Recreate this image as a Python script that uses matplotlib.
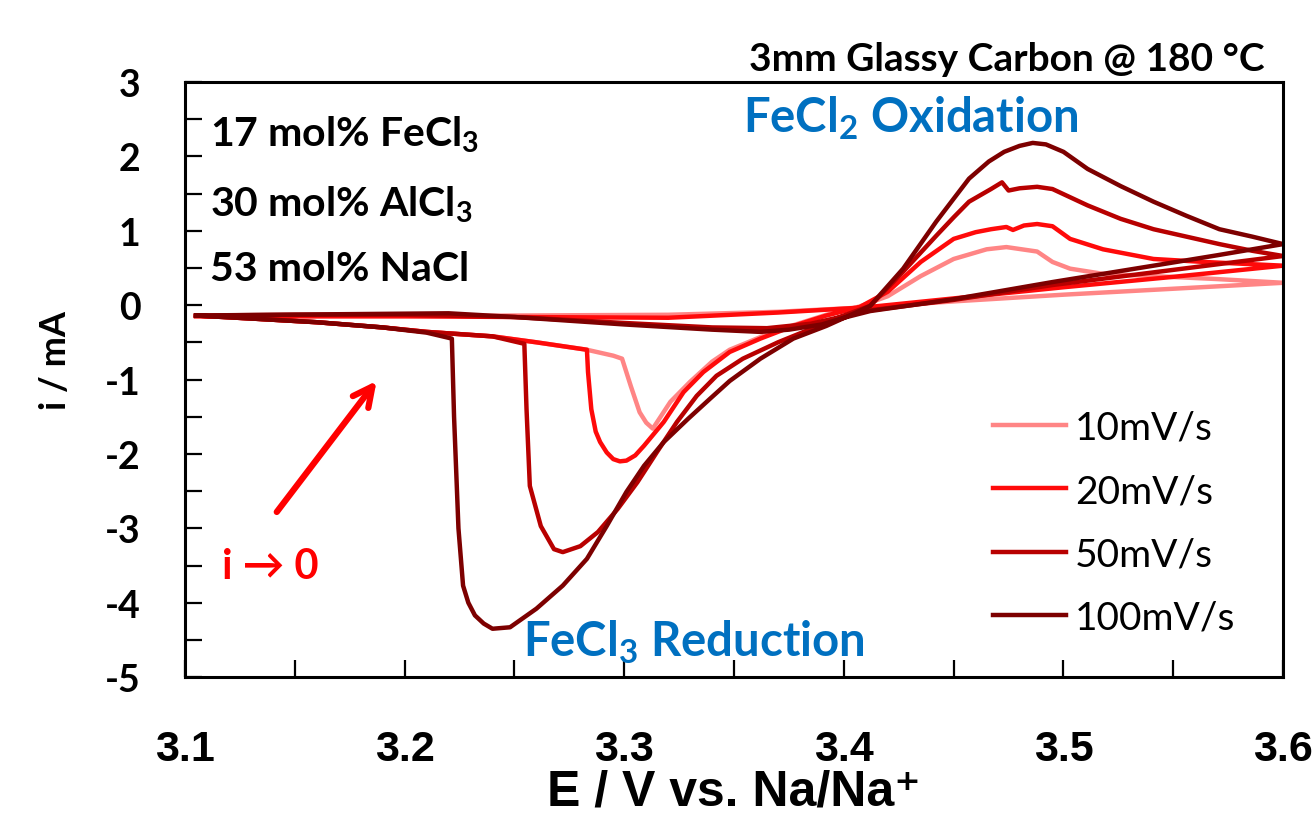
import matplotlib
matplotlib.use('Agg')
import matplotlib.pyplot as plt
from matplotlib.ticker import MultipleLocator

plt.rcParams['mathtext.fontset'] = 'custom'
plt.rcParams['mathtext.rm'] = 'Lato:bold'
plt.rcParams['mathtext.default'] = 'rm'

# scan rates and colours
labels = ['10mV/s', '20mV/s', '50mV/s', '100mV/s']
colors = ['#ff8585', '#ff0a0a', '#b80000', '#7d0000']

# each curve is one closed loop: 3.1 -> 3.6 (forward), then back to 3.1
# 10 mV/s
E_10 = [3.105, 3.13, 3.16, 3.19, 3.21, 3.24, 3.26, 3.283, 3.295, 3.299, 3.303,
        3.307, 3.310, 3.313, 3.321, 3.330, 3.340, 3.348, 3.362, 3.377, 3.392,
        3.407, 3.42, 3.435, 3.45, 3.465, 3.474, 3.488, 3.495, 3.503, 3.518,
        3.541, 3.57, 3.6,
        3.55, 3.5, 3.45, 3.41, 3.37, 3.32, 3.25, 3.2, 3.105]
i_10 = [-0.14, -0.18, -0.23, -0.3, -0.36, -0.42, -0.5, -0.6, -0.68, -0.72, -1.09,
        -1.44, -1.58, -1.66, -1.30, -1.03, -0.76, -0.6, -0.43, -0.27, -0.13,
        -0.02, 0.12, 0.39, 0.62, 0.75, 0.78, 0.72, 0.58, 0.49, 0.42,
        0.39, 0.35, 0.3,
        0.22, 0.14, 0.05, -0.03, -0.09, -0.13, -0.14, -0.15, -0.15]

# 20 mV/s
E_20 = [3.105, 3.13, 3.16, 3.19, 3.21, 3.24, 3.26, 3.283, 3.2835, 3.285, 3.287,
        3.289, 3.292, 3.295, 3.298, 3.301, 3.305, 3.309, 3.318, 3.327, 3.336,
        3.348, 3.362, 3.377, 3.392, 3.407, 3.42, 3.435, 3.45, 3.46, 3.467,
        3.474, 3.477, 3.482, 3.488, 3.495, 3.503, 3.518, 3.541, 3.564, 3.6,
        3.55, 3.5, 3.45, 3.41, 3.37, 3.32, 3.25, 3.2, 3.105]
i_20 = [-0.14, -0.18, -0.23, -0.3, -0.36, -0.42, -0.5, -0.6, -0.9, -1.4, -1.7,
        -1.84, -1.98, -2.07, -2.1, -2.09, -2.02, -1.89, -1.57, -1.17, -0.9,
        -0.63, -0.45, -0.28, -0.14, -0.03, 0.18, 0.58, 0.89, 0.98, 1.02,
        1.05, 1.01, 1.07, 1.09, 1.06, 0.89, 0.75, 0.62, 0.58, 0.53,
        0.38, 0.24, 0.09, -0.03, -0.1, -0.17, -0.16, -0.15, -0.15]

# 50 mV/s
E_50 = [3.105, 3.13, 3.16, 3.19, 3.21, 3.24, 3.2545, 3.2555, 3.257, 3.262,
        3.268, 3.272, 3.280, 3.288, 3.297, 3.306, 3.315, 3.324, 3.333, 3.342,
        3.354, 3.370, 3.385, 3.400, 3.412, 3.427, 3.442, 3.45, 3.457, 3.467,
        3.472, 3.475, 3.48, 3.488, 3.495, 3.511, 3.526, 3.541, 3.556, 3.571,
        3.586, 3.6,
        3.541, 3.495, 3.45, 3.412, 3.40, 3.385, 3.365, 3.34, 3.3, 3.25, 3.2,
        3.15, 3.105]
i_50 = [-0.14, -0.18, -0.23, -0.3, -0.36, -0.42, -0.52, -1.4, -2.43, -2.97,
        -3.28, -3.32, -3.24, -3.05, -2.74, -2.38, -1.97, -1.57, -1.22, -0.95,
        -0.72, -0.5, -0.32, -0.14, -0.01, 0.45, 0.93, 1.18, 1.39, 1.56,
        1.65, 1.54, 1.57, 1.59, 1.56, 1.34, 1.16, 1.02, 0.92, 0.82,
        0.73, 0.66,
        0.44, 0.27, 0.07, -0.07, -0.15, -0.25, -0.31, -0.3, -0.24, -0.16, -0.13,
        -0.13, -0.14]

# 100 mV/s
E_100 = [3.105, 3.13, 3.16, 3.19, 3.21, 3.2215, 3.2225, 3.2245, 3.2266, 3.229,
         3.232, 3.236, 3.240, 3.248, 3.260, 3.272, 3.283, 3.292, 3.301, 3.309,
         3.318, 3.329, 3.339, 3.348, 3.362, 3.377, 3.392, 3.407, 3.412, 3.427,
         3.442, 3.45, 3.457, 3.466, 3.473, 3.48, 3.486, 3.492, 3.5, 3.511,
         3.526, 3.541, 3.556, 3.571, 3.586, 3.6,
         3.57, 3.541, 3.495, 3.45, 3.412, 3.40, 3.39, 3.375, 3.362, 3.34, 3.3,
         3.25, 3.22, 3.18, 3.14, 3.105]
i_100 = [-0.14, -0.18, -0.23, -0.3, -0.37, -0.45, -1.5, -3.0, -3.77, -4.0,
         -4.17, -4.28, -4.35, -4.33, -4.08, -3.77, -3.41, -2.97, -2.51, -2.16,
         -1.84, -1.53, -1.26, -1.02, -0.72, -0.45, -0.28, -0.08, -0.01, 0.49,
         1.12, 1.43, 1.7, 1.93, 2.06, 2.14, 2.18, 2.16, 2.06, 1.83,
         1.6, 1.39, 1.2, 1.02, 0.92, 0.82,
         0.67, 0.53, 0.31, 0.08, -0.08, -0.17, -0.26, -0.33, -0.36, -0.33, -0.26,
         -0.16, -0.11, -0.12, -0.13, -0.14]

E_all = [E_10, E_20, E_50, E_100]
i_all = [i_10, i_20, i_50, i_100]

xticks = [3.1, 3.2, 3.3, 3.4, 3.5, 3.6]
yticks = [3, 2, 1, 0, -1, -2, -3, -4, -5]

fig = plt.figure(figsize=(13.16, 8.29), dpi=100)
ax = fig.add_axes([0.1406, 0.182, 0.8344, 0.718])

for E, cur, c, lab in zip(E_all, i_all, colors, labels):
    ax.plot(E, cur, color=c, lw=3.2, label=lab, solid_joinstyle='round')

ax.set_xlim(3.1, 3.6)
ax.set_ylim(-5, 3)
ax.set_xticks(xticks)
ax.set_yticks(yticks)
ax.xaxis.set_minor_locator(MultipleLocator(0.05))
ax.yaxis.set_minor_locator(MultipleLocator(0.5))
ax.tick_params(which='both', direction='in', length=12, width=1.6)
ax.tick_params(axis='x', pad=37, labelsize=31)
ax.tick_params(axis='y', pad=32, labelsize=27)
for s in ax.spines.values():
    s.set_linewidth(2.2)

arial = ['Liberation Sans', 'DejaVu Sans']
ax.set_xticklabels([f'{v:.1f}' for v in xticks])
ax.set_yticklabels([str(v) for v in yticks])
for t in ax.get_xticklabels():
    t.set_family(arial)
    t.set_fontweight('bold')
    t.set_fontsize(31)
for t in ax.get_yticklabels():
    t.set_family('Lato')
    t.set_fontweight('bold')
    t.set_fontsize(27)

ax.set_xlabel('E / V vs. Na/Na\u207a', family=arial, fontweight='bold',
              fontsize=36, labelpad=0)
fig.text(0.042, 0.565, 'i / mA', rotation=90, family='Lato', fontweight='bold',
         fontsize=26, ha='center', va='center')

comp_kw = dict(family='Lato', fontweight='bold', fontsize=29.5,
               transform=ax.transAxes, va='center', ha='left')
ax.text(0.023, 0.913, '17 mol% FeCl$_3$', **comp_kw)
ax.text(0.023, 0.795, '30 mol% AlCl$_3$', **comp_kw)
ax.text(0.023, 0.686, '53 mol% NaCl', **comp_kw)

ax.text(0.508, 0.941, 'FeCl$_2$ Oxidation', color='#0070c0', family='Lato',
        fontweight='bold', fontsize=34, transform=ax.transAxes,
        va='center', ha='left')
ax.text(0.308, 0.06, 'FeCl$_3$ Reduction', color='#0070c0', family='Lato',
        fontweight='bold', fontsize=34, transform=ax.transAxes,
        va='center', ha='left')

fig.text(0.961, 0.928, '3mm Glassy Carbon @ 180 \u00b0C', family='Lato',
         fontweight='bold', fontsize=28, ha='right', va='center')

# i -> 0 arrow
arrow_tail = (3.141, -2.81)
arrow_head = (3.188, -0.99)
ax.annotate('', xy=arrow_head, xytext=arrow_tail,
            arrowprops=dict(arrowstyle='->', color='#ff0000', lw=4.5,
                            mutation_scale=35))
ax.text(0.034, 0.187, 'i \u2192 0', color='#ff0000', family=['Lato', 'DejaVu Sans'],
        fontweight='bold', fontsize=30, transform=ax.transAxes,
        va='center', ha='left')

leg = ax.legend(loc='upper left', bbox_to_anchor=(0.736, 0.449), frameon=False,
                prop={'family': 'Lato', 'size': 28}, handlelength=1.88,
                handletextpad=0.23, labelspacing=0.7, borderpad=0,
                borderaxespad=0)

fig.savefig('out.png', dpi=100)
